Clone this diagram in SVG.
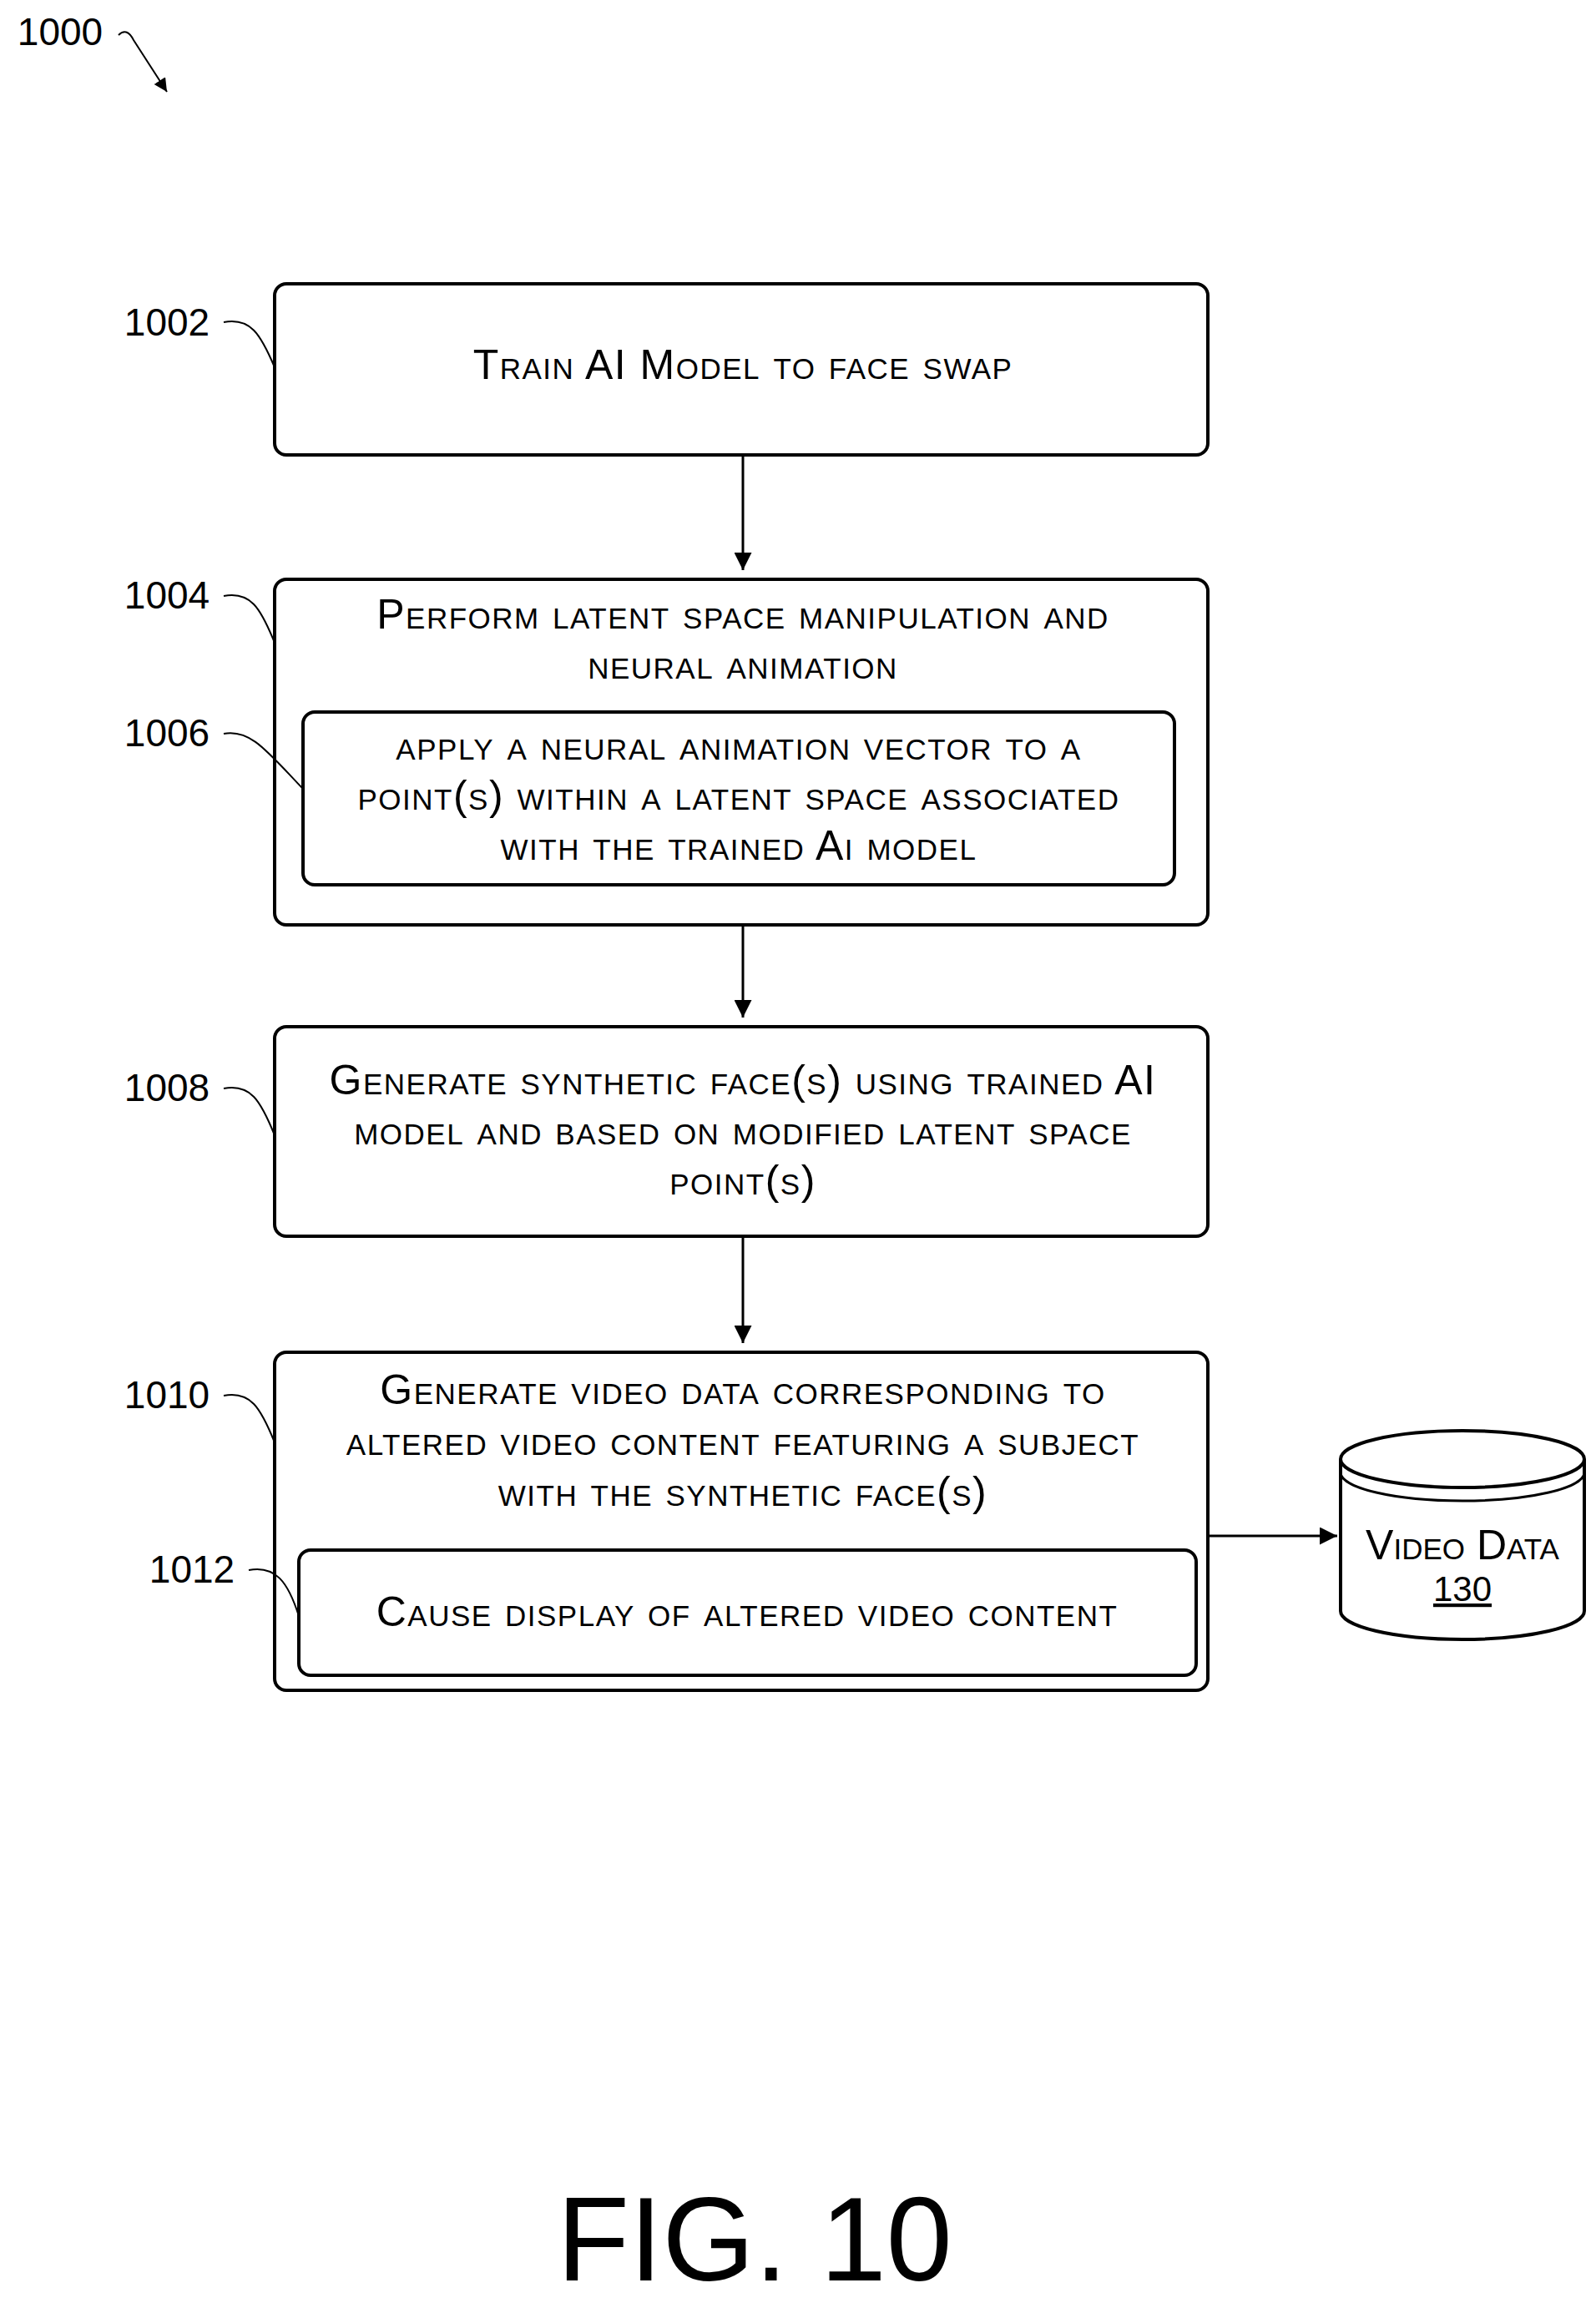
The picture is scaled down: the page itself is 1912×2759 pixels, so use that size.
<svg xmlns="http://www.w3.org/2000/svg" width="1912" height="2759" viewBox="0 0 1912 2759">
<style>
.b{fill:#fff;stroke:#000;stroke-width:4}
.t{font-family:"Liberation Sans",Arial,sans-serif;font-size:50px;letter-spacing:1.5px;font-variant:small-caps;text-anchor:middle;fill:#000}
.l{font-family:"Liberation Sans",Arial,sans-serif;font-size:46px;text-anchor:middle;fill:#000}
.c{fill:none;stroke:#000;stroke-width:3}
.k{fill:none;stroke:#000;stroke-width:2}
</style>
<defs><marker id="a" viewBox="0 0 10 10" refX="10" refY="5" markerWidth="7" markerHeight="7" orient="auto" markerUnits="strokeWidth"><path d="M0,0L10,5L0,10z"/></marker>
<marker id="a2" viewBox="0 0 10 10" refX="10" refY="5" markerWidth="8" markerHeight="8" orient="auto" markerUnits="strokeWidth"><path d="M0,0L10,5L0,10z"/></marker></defs>
<rect width="1912" height="2759" fill="#fff"/>
<g id="n1000"><text class="l" x="72" y="54">1000</text><path class="k" d="M142,42 C150,34 156,40 160,48 L200,110" marker-end="url(#a2)"/></g>
<g id="n1002"><rect class="b" x="329" y="340" width="1118" height="205" rx="14"/><text class="t" x="890" y="454">Train AI Model to face swap</text>
<text class="l" x="200" y="402">1002</text><path class="k" d="M268,386 C300,380 312,400 329,440"/></g>
<g id="n1004"><rect class="b" x="329" y="694" width="1118" height="414" rx="14"/><text class="t" x="890" y="753">Perform latent space manipulation and</text><text class="t" x="890" y="813">neural animation</text>
<text class="l" x="200" y="729">1004</text><path class="k" d="M268,714 C300,708 312,728 329,770"/></g>
<g id="n1006"><rect class="b" x="363" y="853" width="1044" height="207" rx="14"/><text class="t" x="885" y="910">apply a neural animation vector to a</text><text class="t" x="885" y="970">point(s) within a latent space associated</text><text class="t" x="885" y="1030">with the trained Ai model</text>
<text class="l" x="200" y="894">1006</text><path class="k" d="M268,879 C300,873 320,900 363,945"/></g>
<g id="n1008"><rect class="b" x="329" y="1230" width="1118" height="251" rx="14"/><text class="t" x="890" y="1311">Generate synthetic face(s) using trained AI</text><text class="t" x="890" y="1371">model and based on modified latent space</text><text class="t" x="890" y="1431">point(s)</text>
<text class="l" x="200" y="1319">1008</text><path class="k" d="M268,1304 C300,1298 312,1318 329,1360"/></g>
<g id="n1010"><rect class="b" x="329" y="1620" width="1118" height="405" rx="14"/><text class="t" x="890" y="1682">Generate video data corresponding to</text><text class="t" x="890" y="1743">altered video content featuring a subject</text><text class="t" x="890" y="1804">with the synthetic face(s)</text>
<text class="l" x="200" y="1687">1010</text><path class="k" d="M268,1672 C300,1666 312,1686 329,1728"/></g>
<g id="n1012"><rect class="b" x="358" y="1857" width="1075" height="150" rx="14"/><text class="t" x="895" y="1948">Cause display of altered video content</text>
<text class="l" x="230" y="1896">1012</text><path class="k" d="M298,1881 C330,1875 345,1895 358,1936"/></g>
<g id="n130"><path class="b" d="M1606,1748 L1606,1930 A146,34 0 0 0 1898,1930 L1898,1748"/><ellipse class="b" cx="1752" cy="1748" rx="146" ry="34"/><path class="c" d="M1606,1764 A146,34 0 0 0 1898,1764"/>
<text class="t" x="1752" y="1868" style="letter-spacing:0">Video Data</text><text class="l" x="1752" y="1918" style="font-size:42px;text-decoration:underline">130</text></g>
<g id="connectors">
<path class="c" d="M890,547V683" marker-end="url(#a)"/>
<path class="c" d="M890,1110V1219" marker-end="url(#a)"/>
<path class="c" d="M890,1483V1609" marker-end="url(#a)"/>
<path class="c" d="M1449,1840H1602" marker-end="url(#a)"/>
</g>
<text class="l" x="904" y="2732" style="font-size:142px">FIG. 10</text>
</svg>
